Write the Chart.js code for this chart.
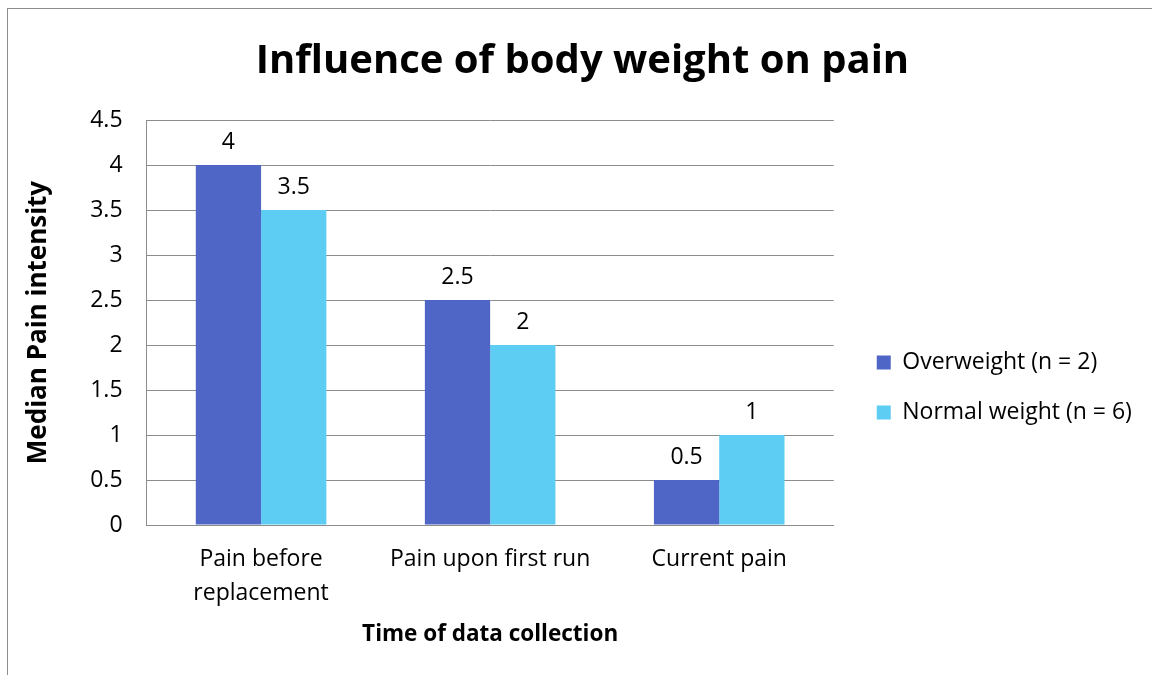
<!DOCTYPE html>
<html>
<head>
<meta charset="utf-8">
<script src="https://cdn.jsdelivr.net/npm/chart.js@4/dist/chart.umd.min.js"></script>
<style>
    html, body { margin: 0; padding: 0; background: #fff; }
    #wrap { position: relative; width: 1152px; height: 675px; overflow: hidden; }
    #frame { position: absolute; left: 7px; top: 8px; width: 1200px; height: 700px; border: 1px solid #8c8c8c; }
    #chart { position: absolute; left: 0; top: 0; }
</style>
</head>
<body>
<div id="wrap">
    <div id="frame"></div>
    <canvas id="chart" width="1152" height="675"></canvas>
</div>
<script>
// Chart data
const categories = [['Pain before', 'replacement'], 'Pain upon first run', 'Current pain'];
const overweight = [4, 2.5, 0.5];
const normalWeight = [3.5, 2, 1];
const seriesLabels = ['Overweight (n = 2)', 'Normal weight (n = 6)'];

const FONT = '"Open Sans", sans-serif';

// Draw value labels above each bar
const valueLabels = {
    id: 'valueLabels',
    afterDatasetsDraw(chart) {
        const ctx = chart.ctx;
        ctx.save();
        ctx.font = '23px ' + FONT;
        ctx.fillStyle = '#000';
        ctx.textAlign = 'center';
        ctx.textBaseline = 'middle';
        chart.data.datasets.forEach((ds, i) => {
            chart.getDatasetMeta(i).data.forEach((bar, j) => {
                ctx.fillText(String(ds.data[j]), bar.x, bar.y - 23);
            });
        });
        ctx.restore();
    }
};

// Excel puts the legend lower and further from the plot, and the title a bit right
const excelPlacement = {
    id: 'excelPlacement',
    afterLayout(chart) {
        const lg = chart.legend;
        if (lg) {
            lg.left += 16;
            lg.right = chart.width;
            lg.width = lg.right - lg.left;
            lg.top += 117;
            lg.height = lg.bottom - lg.top;
        }
        const tb = chart.titleBlock;
        if (tb) {
            tb.left += 24;
            tb.right += 24;
        }
    }
};

new Chart(document.getElementById('chart'), {
    type: 'bar',
    data: {
        labels: categories,
        datasets: [{
            label: seriesLabels[0],
            data: overweight,
            backgroundColor: '#4f66c7',
            categoryPercentage: 0.57,
            barPercentage: 1
        }, {
            label: seriesLabels[1],
            data: normalWeight,
            backgroundColor: '#5ecdf3',
            categoryPercentage: 0.57,
            barPercentage: 1
        }]
    },
    options: {
        responsive: false,
        animation: false,
        layout: {
            padding: { left: 8, right: 43, top: 10, bottom: 27 }
        },
        plugins: {
            title: {
                display: true,
                text: 'Influence of body weight on pain',
                color: '#000',
                font: { family: FONT, size: 40, weight: 'bold', lineHeight: 1.2 },
                padding: { top: 28, bottom: 34 }
            },
            legend: {
                position: 'right',
                labels: {
                    color: '#000',
                    font: { family: FONT, size: 23 },
                    boxWidth: 14,
                    boxHeight: 14,
                    padding: 27
                }
            },
            tooltip: { enabled: false }
        },
        scales: {
            x: {
                grid: { display: false, drawTicks: false },
                border: { color: '#8c8c8c' },
                ticks: {
                    color: '#000',
                    font: { family: FONT, size: 23, lineHeight: 1.5 },
                    padding: 17,
                    maxRotation: 0
                },
                title: {
                    display: true,
                    text: 'Time of data collection',
                    color: '#000',
                    font: { family: FONT, size: 22.5, weight: 'bold', lineHeight: 1.2 },
                    padding: { top: -7, bottom: 0 }
                }
            },
            y: {
                min: 0,
                max: 4.5,
                grid: { color: '#8c8c8c', drawTicks: false },
                border: { color: '#8c8c8c' },
                ticks: {
                    stepSize: 0.5,
                    color: '#000',
                    font: { family: FONT, size: 23 },
                    padding: 24,
                    callback: v => String(v)
                },
                title: {
                    display: true,
                    text: 'Median Pain intensity',
                    color: '#000',
                    font: { family: FONT, size: 26, weight: 'bold', lineHeight: 1.2 },
                    padding: { top: 15, bottom: 12 }
                }
            }
        }
    },
    plugins: [valueLabels, excelPlacement]
});
</script>
</body>
</html>
